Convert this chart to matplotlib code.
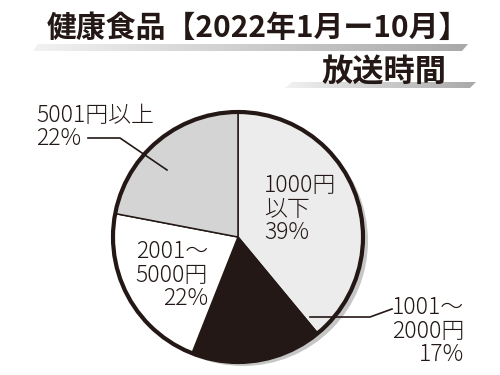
import matplotlib
matplotlib.use("Agg")
import matplotlib.pyplot as plt
from matplotlib.patches import Circle, Polygon
import numpy as np

plt.rcParams['font.family'] = ['Noto Sans CJK JP', 'DejaVu Sans']

# Data
categories = ["1000円\n以下", "1001〜\n2000円", "2001〜\n5000円", "5001円以上"]
shares = [39, 17, 22, 22]
colors = ["#ececec", "#231815", "#ffffff", "#d4d4d5"]
title1 = "健康食品【2022年1月ー10月】"
title2 = "放送時間"

INK = "#231815"
W, H = 500, 375

fig = plt.figure(figsize=(5, 3.75), dpi=100)
ax = fig.add_axes([0, 0, 1, 1])
ax.set_xlim(0, W)
ax.set_ylim(0, H)
ax.axis('off')

def Y(y):
    return H - y

cx, cy, r = 238, Y(237), 125

# shadow
ax.add_patch(Circle((cx + 5, cy - 4), r, facecolor="#c6c6c6", edgecolor="none", zorder=1))

wedges, _ = ax.pie(shares, startangle=90, counterclock=False, colors=colors,
                   center=(cx, cy), radius=r,
                   wedgeprops=dict(edgecolor=INK, linewidth=1.1))
for w in wedges:
    w.set_zorder(2)
ax.add_patch(Circle((cx, cy), r, facecolor="none", edgecolor=INK, linewidth=3, zorder=3))
ax.set_xlim(0, W)
ax.set_ylim(0, H)
ax.set_aspect('auto')

fs = 16.5
ls = 0.9
lw_font = "light"
# labels
ax.text(36, Y(127), "5001円以上\n22%", ha="left", va="center", fontsize=fs,
        color=INK, linespacing=ls, multialignment="left", zorder=5, fontweight=lw_font)
ax.text(264, Y(209), "1000円\n以下\n39%", ha="left", va="center", fontsize=fs,
        color=INK, linespacing=ls, multialignment="left", zorder=5, fontweight=lw_font)
ax.text(208, Y(275), "2001〜\n5000円\n22%", ha="right", va="center", fontsize=fs,
        color=INK, linespacing=ls, multialignment="right", zorder=5, fontweight=lw_font)
ax.text(464, Y(331), "1001〜\n2000円\n17%", ha="right", va="center", fontsize=fs,
        color=INK, linespacing=ls, multialignment="right", zorder=5, fontweight=lw_font)

# leader lines
ax.plot([88, 120, 167], [Y(138), Y(138), Y(170)], color=INK, lw=1.2, zorder=4)
ax.plot([310, 370, 392], [Y(317), Y(317), Y(309)], color=INK, lw=1.2, zorder=4)

# gradient bars under titles
def grad_bar(pts):
    poly = Polygon([(x, Y(y)) for x, y in pts], closed=True, facecolor="none",
                   edgecolor="none", zorder=5)
    ax.add_patch(poly)
    xs = [p[0] for p in pts]
    ys = [Y(p[1]) for p in pts]
    g = np.linspace(0, 1, 256).reshape(1, -1)
    im = ax.imshow(g, extent=(min(xs), max(xs), min(ys), max(ys)),
                   cmap=matplotlib.colors.LinearSegmentedColormap.from_list(
                       "g", ["#f2f2f2", "#a9a9a9"]),
                   aspect="auto", zorder=5, interpolation="bilinear")
    im.set_clip_path(poly)

grad_bar([(38, 44), (468, 44), (462, 51), (33, 51)])
grad_bar([(292, 82), (476, 82), (470, 88), (285, 88)])
ax.set_xlim(0, W)
ax.set_ylim(0, H)

ax.text(47, Y(28), title1, ha="left", va="center", fontsize=21.5,
        fontweight="bold", color=INK, zorder=6)
ax.text(446, Y(72), title2, ha="right", va="center", fontsize=22.5,
        fontweight="bold", color=INK, zorder=6)

fig.savefig("out.png", dpi=100)
